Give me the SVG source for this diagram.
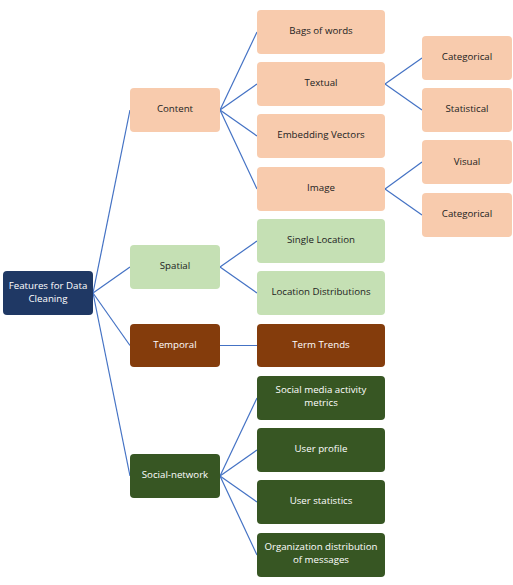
<svg xmlns="http://www.w3.org/2000/svg" width="513" height="585" viewBox="0 0 513 585">
<style>
text{font-family:"Open Sans","Noto Sans","DejaVu Sans",sans-serif;font-size:9.7px;text-anchor:middle;dominant-baseline:central}
.peach rect{fill:#F8CBAD}.peach text{fill:#222}
.green rect{fill:#C5E0B4}.green text{fill:#222}
.brown rect{fill:#843C0C}.brown text{fill:#fff}
.dgreen rect{fill:#375623}.dgreen text{fill:#fff}
.navy rect{fill:#1F3864}.navy text{fill:#fff}
#connectors line{stroke:#4472C4;stroke-width:1.2}
</style>
<rect width="513" height="585" fill="#fff"/>
<g id="connectors">
<line x1="93" y1="293" x2="130" y2="110"/>
<line x1="93" y1="293" x2="130" y2="267"/>
<line x1="93" y1="293" x2="130" y2="345.5"/>
<line x1="93" y1="293" x2="130" y2="476"/>
<line x1="220" y1="110" x2="257" y2="32"/>
<line x1="220" y1="110" x2="257" y2="84"/>
<line x1="220" y1="110" x2="257" y2="136"/>
<line x1="220" y1="110" x2="257" y2="189"/>
<line x1="385" y1="84" x2="422" y2="58"/>
<line x1="385" y1="84" x2="422" y2="110"/>
<line x1="385" y1="189" x2="422" y2="162"/>
<line x1="385" y1="189" x2="422" y2="215"/>
<line x1="220" y1="267" x2="257" y2="241"/>
<line x1="220" y1="267" x2="257" y2="293"/>
<line x1="220" y1="345.5" x2="257" y2="345.5"/>
<line x1="220" y1="476" x2="257" y2="398"/>
<line x1="220" y1="476" x2="257" y2="450"/>
<line x1="220" y1="476" x2="257" y2="502"/>
<line x1="220" y1="476" x2="257" y2="555"/>
</g>
<g id="root" class="navy"><rect x="3" y="271" width="90" height="44" rx="4"/><text x="48" y="285">Features for Data</text><text x="48" y="298">Cleaning</text></g>
<g id="content" class="peach"><rect x="130" y="88" width="90" height="44" rx="4"/><text x="175" y="108">Content</text></g>
<g id="spatial" class="green"><rect x="130" y="245" width="90" height="44" rx="4"/><text x="175" y="265">Spatial</text></g>
<g id="temporal" class="brown"><rect x="130" y="324" width="90" height="43" rx="4"/><text x="175" y="344">Temporal</text></g>
<g id="social" class="dgreen"><rect x="130" y="454" width="90" height="44" rx="4"/><text x="175" y="474">Social-network</text></g>
<g id="bags" class="peach"><rect x="257" y="10" width="128" height="44" rx="4"/><text x="321" y="30">Bags of words</text></g>
<g id="textual" class="peach"><rect x="257" y="62" width="128" height="44" rx="4"/><text x="321" y="82">Textual</text></g>
<g id="embedding" class="peach"><rect x="257" y="114" width="128" height="44" rx="4"/><text x="321" y="134">Embedding Vectors</text></g>
<g id="image" class="peach"><rect x="257" y="167" width="128" height="44" rx="4"/><text x="321" y="187">Image</text></g>
<g id="cat1" class="peach"><rect x="422" y="36" width="90" height="44" rx="4"/><text x="467" y="56">Categorical</text></g>
<g id="stat" class="peach"><rect x="422" y="88" width="90" height="44" rx="4"/><text x="467" y="108">Statistical</text></g>
<g id="visual" class="peach"><rect x="422" y="140" width="90" height="44" rx="4"/><text x="467" y="161">Visual</text></g>
<g id="cat2" class="peach"><rect x="422" y="193" width="90" height="44" rx="4"/><text x="467" y="213">Categorical</text></g>
<g id="single" class="green"><rect x="257" y="219" width="128" height="44" rx="4"/><text x="321" y="239">Single Location</text></g>
<g id="locdist" class="green"><rect x="257" y="271" width="128" height="44" rx="4"/><text x="321" y="291">Location Distributions</text></g>
<g id="trends" class="brown"><rect x="257" y="324" width="128" height="43" rx="4"/><text x="321" y="344">Term Trends</text></g>
<g id="smam" class="dgreen"><rect x="257" y="376" width="128" height="44" rx="4"/><text x="321" y="389">Social media activity</text><text x="321" y="402">metrics</text></g>
<g id="profile" class="dgreen"><rect x="257" y="428" width="128" height="44" rx="4"/><text x="321" y="448">User profile</text></g>
<g id="ustats" class="dgreen"><rect x="257" y="480" width="128" height="44" rx="4"/><text x="321" y="500">User statistics</text></g>
<g id="org" class="dgreen"><rect x="257" y="533" width="128" height="44" rx="4"/><text x="321" y="546">Organization distribution</text><text x="321" y="559">of messages</text></g>
</svg>
